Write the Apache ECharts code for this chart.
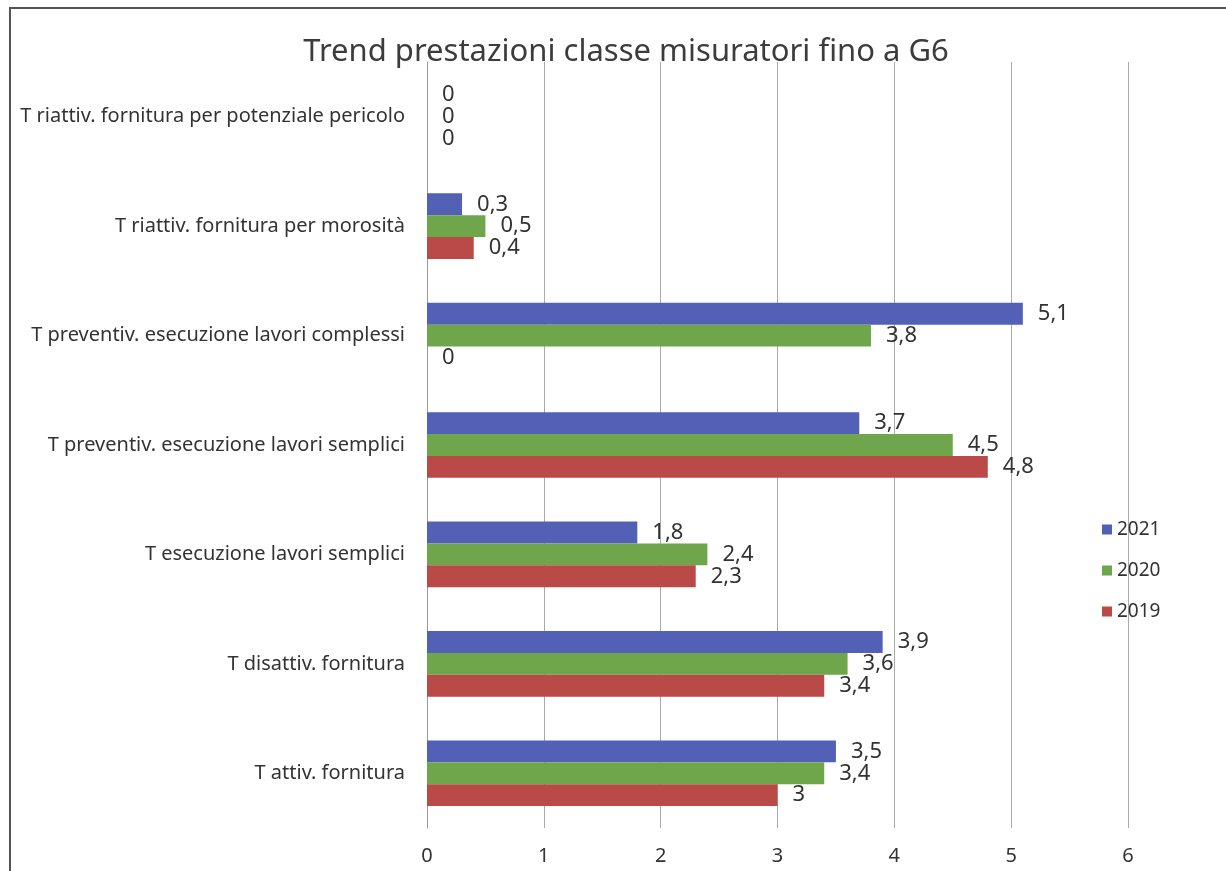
<!DOCTYPE html>
<html>
<head>
<meta charset="utf-8">
<title>Trend prestazioni classe misuratori fino a G6</title>
<script src="https://cdn.jsdelivr.net/npm/echarts@6/dist/echarts.min.js"></script>
<style>
  html, body { margin: 0; padding: 0; background: #fff; }
  #chart { width: 1226px; height: 871px; }
</style>
</head>
<body>
<div id="chart"></div>
<script>
// categories, top to bottom
const categories = [
  'T riattiv. fornitura per potenziale pericolo',
  'T riattiv. fornitura per morosità',
  'T preventiv. esecuzione lavori complessi',
  'T preventiv. esecuzione lavori semplici',
  'T esecuzione lavori semplici',
  'T disattiv. fornitura',
  'T attiv. fornitura'
];
const values2021 = [0, 0.3, 5.1, 3.7, 1.8, 3.9, 3.5];
const values2020 = [0, 0.5, 3.8, 4.5, 2.4, 3.6, 3.4];
const values2019 = [0, 0.4, 0, 4.8, 2.3, 3.4, 3];
const xTicks = [0, 1, 2, 3, 4, 5, 6];

const textColor = '#333';
const fontFam = '"Noto Sans", "DejaVu Sans", sans-serif';

function makeSeries(name, data, color) {
  return {
    name: name,
    type: 'bar',
    data: data,
    barGap: '0%',
    barCategoryGap: '40%',
    itemStyle: { color: color },
    label: {
      show: true,
      position: 'right',
      distance: 15,
      color: textColor,
      fontSize: 22,
      fontFamily: fontFam,
      formatter: p => String(p.value).replace('.', ',')
    }
  };
}

var myChart = echarts.init(document.getElementById('chart'));
var option = {
  animation: false,
  backgroundColor: '#fff',
  title: {
    text: 'Trend prestazioni classe misuratori fino a G6',
    left: 621,
    textAlign: 'center',
    top: 32,
    textStyle: { color: '#3c3c3c', fontSize: 31, fontWeight: 'normal', fontFamily: fontFam }
  },
  legend: {
    orient: 'vertical',
    left: 1097,
    top: 515,
    itemWidth: 10,
    itemHeight: 10,
    itemGap: 22,
    icon: 'rect',
    data: ['2021', '2020', '2019'],
    textStyle: { color: textColor, fontSize: 19, fontFamily: fontFam }
  },
  grid: { left: 427, right: 98, top: 62, bottom: 43, containLabel: false },
  xAxis: {
    type: 'value',
    min: xTicks[0],
    max: xTicks[xTicks.length - 1],
    interval: 1,
    axisLine: { show: false },
    axisTick: { show: false },
    axisLabel: { color: textColor, fontSize: 20, fontFamily: fontFam, margin: 18 },
    splitLine: { lineStyle: { color: '#aaa', width: 1 } }
  },
  yAxis: {
    type: 'category',
    inverse: true,
    data: categories,
    axisLine: { show: true, lineStyle: { color: '#999', width: 1 } },
    axisTick: { show: false },
    axisLabel: { color: textColor, fontSize: 20, fontFamily: fontFam, margin: 22 }
  },
  graphic: [
    { type: 'line', shape: { x1: 9, y1: 8, x2: 1226, y2: 8 }, style: { stroke: '#555', lineWidth: 2 } },
    { type: 'line', shape: { x1: 10, y1: 7, x2: 10, y2: 871 }, style: { stroke: '#555', lineWidth: 2 } }
  ],
  series: [
    makeSeries('2021', values2021, '#5260b5'),
    makeSeries('2020', values2020, '#6fa64c'),
    makeSeries('2019', values2019, '#b94a48')
  ]
};
option && myChart.setOption(option);
</script>
</body>
</html>
